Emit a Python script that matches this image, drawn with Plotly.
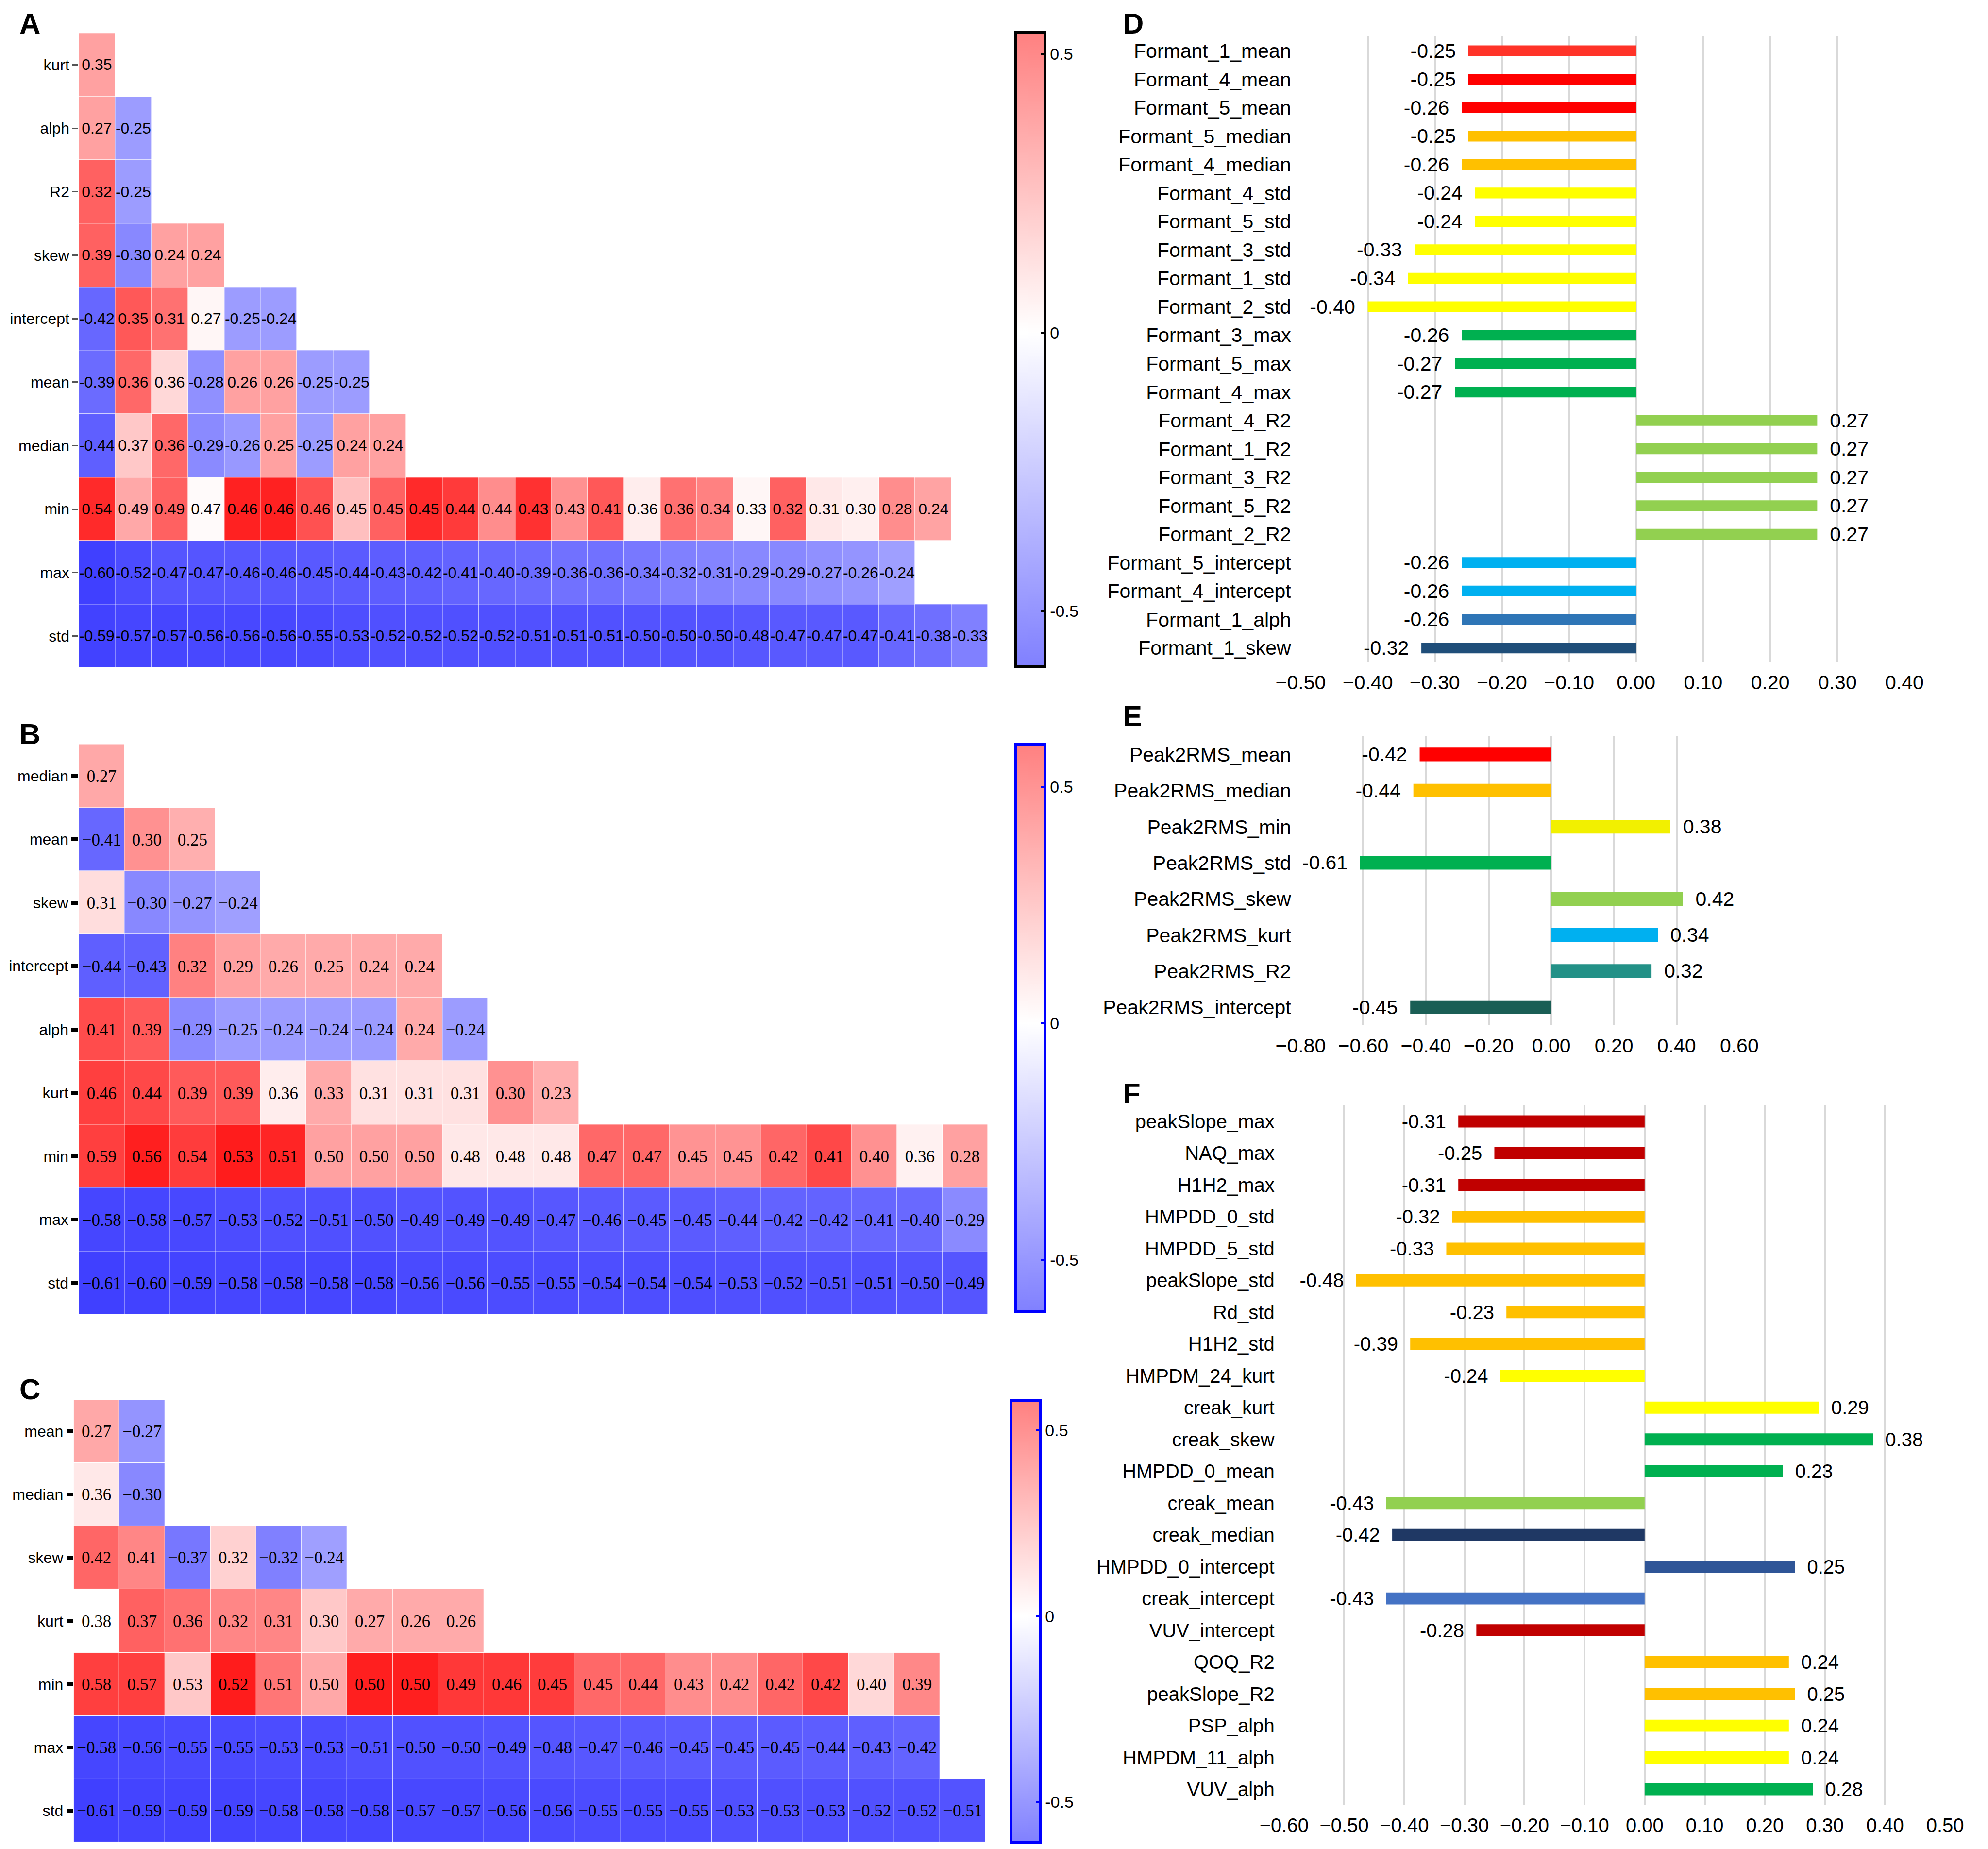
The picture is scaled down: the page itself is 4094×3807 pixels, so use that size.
import plotly.graph_objects as go

W, H = 4094, 3807

a_rows = ["kurt", "alph", "R2", "skew", "intercept", "mean", "median", "min", "max", "std"]
a_vals = [
    [0.35],
    [0.27, -0.25],
    [0.32, -0.25],
    [0.39, -0.30, 0.24, 0.24],
    [-0.42, 0.35, 0.31, 0.27, -0.25, -0.24],
    [-0.39, 0.36, 0.36, -0.28, 0.26, 0.26, -0.25, -0.25],
    [-0.44, 0.37, 0.36, -0.29, -0.26, 0.25, -0.25, 0.24, 0.24],
    [0.54, 0.49, 0.49, 0.47, 0.46, 0.46, 0.46, 0.45, 0.45, 0.45, 0.44, 0.44, 0.43, 0.43, 0.41,
     0.36, 0.36, 0.34, 0.33, 0.32, 0.31, 0.30, 0.28, 0.24],
    [-0.60, -0.52, -0.47, -0.47, -0.46, -0.46, -0.45, -0.44, -0.43, -0.42, -0.41, -0.40, -0.39,
     -0.36, -0.36, -0.34, -0.32, -0.31, -0.29, -0.29, -0.27, -0.26, -0.24],
    [-0.59, -0.57, -0.57, -0.56, -0.56, -0.56, -0.55, -0.53, -0.52, -0.52, -0.52, -0.52, -0.51,
     -0.51, -0.51, -0.50, -0.50, -0.50, -0.48, -0.47, -0.47, -0.47, -0.41, -0.38, -0.33],
]
a_shade = [
    [0.41],
    [0.41, -0.51],
    [0.69, -0.51],
    [0.69, -0.61, 0.41, 0.41],
    [-0.78, 0.73, 0.62, 0.04, -0.51, -0.51],
    [-0.76, 0.66, 0.17, -0.57, 0.41, 0.41, -0.51, -0.51],
    [-0.82, 0.24, 0.66, -0.60, -0.53, 0.41, -0.51, 0.41, 0.41],
    [0.93, 0.38, 0.69, 0.02, 0.97, 0.97, 0.76, 0.28, 0.69, 0.93, 0.86, 0.50, 0.90, 0.48, 0.73,
     0.08, 0.62, 0.55, 0.04, 0.69, 0.10, 0.07, 0.50, 0.40],
    [-0.98, -0.92, -0.87, -0.87, -0.86, -0.86, -0.85, -0.84, -0.83, -0.82, -0.80, -0.78, -0.76,
     -0.73, -0.73, -0.69, -0.65, -0.63, -0.61, -0.61, -0.57, -0.55, -0.49],
    [-0.97, -0.95, -0.95, -0.94, -0.94, -0.94, -0.93, -0.91, -0.90, -0.90, -0.90, -0.90, -0.89,
     -0.89, -0.89, -0.88, -0.88, -0.88, -0.86, -0.85, -0.85, -0.85, -0.78, -0.74, -0.65],
]

b_rows = ["median", "mean", "skew", "intercept", "alph", "kurt", "min", "max", "std"]
b_vals = [
    [0.27],
    [-0.41, 0.30, 0.25],
    [0.31, -0.30, -0.27, -0.24],
    [-0.44, -0.43, 0.32, 0.29, 0.26, 0.25, 0.24, 0.24],
    [0.41, 0.39, -0.29, -0.25, -0.24, -0.24, -0.24, 0.24, -0.24],
    [0.46, 0.44, 0.39, 0.39, 0.36, 0.33, 0.31, 0.31, 0.31, 0.30, 0.23],
    [0.59, 0.56, 0.54, 0.53, 0.51, 0.50, 0.50, 0.50, 0.48, 0.48, 0.48, 0.47, 0.47, 0.45, 0.45,
     0.42, 0.41, 0.40, 0.36, 0.28],
    [-0.58, -0.58, -0.57, -0.53, -0.52, -0.51, -0.50, -0.49, -0.49, -0.49, -0.47, -0.46, -0.45,
     -0.45, -0.44, -0.42, -0.42, -0.41, -0.40, -0.29],
    [-0.61, -0.60, -0.59, -0.58, -0.58, -0.58, -0.58, -0.56, -0.56, -0.55, -0.55, -0.54, -0.54,
     -0.54, -0.53, -0.52, -0.51, -0.51, -0.50, -0.49],
]
b_shade = [
    [0.38],
    [-0.78, 0.48, 0.35],
    [0.15, -0.61, -0.55, -0.49],
    [-0.82, -0.81, 0.55, 0.41, 0.37, 0.37, 0.37, 0.37],
    [0.78, 0.72, -0.60, -0.51, -0.51, -0.51, -0.51, 0.37, -0.51],
    [0.84, 0.80, 0.72, 0.72, 0.08, 0.37, 0.13, 0.13, 0.13, 0.48, 0.35],
    [0.84, 0.98, 0.85, 0.99, 0.95, 0.41, 0.41, 0.41, 0.10, 0.10, 0.10, 0.66, 0.66, 0.47, 0.47,
     0.67, 0.80, 0.48, 0.06, 0.41],
    [-0.95, -0.95, -0.94, -0.92, -0.90, -0.90, -0.89, -0.88, -0.88, -0.88, -0.86, -0.85, -0.84,
     -0.84, -0.82, -0.80, -0.80, -0.78, -0.77, -0.60],
    [-0.98, -0.97, -0.96, -0.95, -0.95, -0.95, -0.95, -0.93, -0.93, -0.92, -0.92, -0.91, -0.91,
     -0.91, -0.90, -0.90, -0.89, -0.89, -0.88, -0.87],
]

c_rows = ["mean", "median", "skew", "kurt", "min", "max", "std"]
c_vals = [
    [0.27, -0.27],
    [0.36, -0.30],
    [0.42, 0.41, -0.37, 0.32, -0.32, -0.24],
    [0.38, 0.37, 0.36, 0.32, 0.31, 0.30, 0.27, 0.26, 0.26],
    [0.58, 0.57, 0.53, 0.52, 0.51, 0.50, 0.50, 0.50, 0.49, 0.46, 0.45, 0.45, 0.44, 0.43, 0.42,
     0.42, 0.42, 0.40, 0.39],
    [-0.58, -0.56, -0.55, -0.55, -0.53, -0.53, -0.51, -0.50, -0.50, -0.49, -0.48, -0.47, -0.46,
     -0.45, -0.45, -0.45, -0.44, -0.43, -0.42],
    [-0.61, -0.59, -0.59, -0.59, -0.58, -0.58, -0.58, -0.57, -0.57, -0.56, -0.56, -0.55, -0.55,
     -0.55, -0.53, -0.53, -0.53, -0.52, -0.52, -0.51],
]
c_shade = [
    [0.38, -0.55],
    [0.10, -0.61],
    [0.67, 0.53, -0.70, 0.20, -0.65, -0.49],
    [0.00, 0.69, 0.62, 0.53, 0.53, 0.24, 0.37, 0.37, 0.37],
    [0.84, 0.84, 0.24, 0.99, 0.60, 0.38, 0.98, 0.98, 0.87, 0.87, 0.85, 0.66, 0.66, 0.50, 0.50,
     0.67, 0.80, 0.17, 0.52],
    [-0.95, -0.94, -0.93, -0.93, -0.92, -0.92, -0.90, -0.89, -0.89, -0.88, -0.87, -0.86, -0.85,
     -0.84, -0.84, -0.84, -0.83, -0.82, -0.80],
    [-0.98, -0.96, -0.96, -0.96, -0.95, -0.95, -0.95, -0.94, -0.94, -0.93, -0.93, -0.92, -0.92,
     -0.92, -0.90, -0.90, -0.90, -0.89, -0.89, -0.88],
]

# ---------------- bar chart data ----------------
d_labels = ["Formant_1_mean", "Formant_4_mean", "Formant_5_mean", "Formant_5_median",
            "Formant_4_median", "Formant_4_std", "Formant_5_std", "Formant_3_std",
            "Formant_1_std", "Formant_2_std", "Formant_3_max", "Formant_5_max", "Formant_4_max",
            "Formant_4_R2", "Formant_1_R2", "Formant_3_R2", "Formant_5_R2", "Formant_2_R2",
            "Formant_5_intercept", "Formant_4_intercept", "Formant_1_alph", "Formant_1_skew"]
d_vals = [-0.25, -0.25, -0.26, -0.25, -0.26, -0.24, -0.24, -0.33, -0.34, -0.40, -0.26, -0.27,
          -0.27, 0.27, 0.27, 0.27, 0.27, 0.27, -0.26, -0.26, -0.26, -0.32]
d_colors = ["#FF3328", "#FF0000", "#FF0000", "#FFC000", "#FFC000", "#FFFF00", "#FFFF00",
            "#FFFF00", "#FFFF00", "#FFFF00", "#00B050", "#00B050", "#00B050", "#92D050",
            "#92D050", "#92D050", "#92D050", "#92D050", "#00B0F0", "#00B0F0", "#2E75B6",
            "#1F4E79"]

e_labels = ["Peak2RMS_mean", "Peak2RMS_median", "Peak2RMS_min", "Peak2RMS_std",
            "Peak2RMS_skew", "Peak2RMS_kurt", "Peak2RMS_R2", "Peak2RMS_intercept"]
e_vals = [-0.42, -0.44, 0.38, -0.61, 0.42, 0.34, 0.32, -0.45]
e_colors = ["#FF0000", "#FFC000", "#F2F000", "#00B050", "#92D050", "#00B0F0", "#239187",
            "#1A5E55"]

f_labels = ["peakSlope_max", "NAQ_max", "H1H2_max", "HMPDD_0_std", "HMPDD_5_std",
            "peakSlope_std", "Rd_std", "H1H2_std", "HMPDM_24_kurt", "creak_kurt", "creak_skew",
            "HMPDD_0_mean", "creak_mean", "creak_median", "HMPDD_0_intercept",
            "creak_intercept", "VUV_intercept", "QOQ_R2", "peakSlope_R2", "PSP_alph",
            "HMPDM_11_alph", "VUV_alph"]
f_vals = [-0.31, -0.25, -0.31, -0.32, -0.33, -0.48, -0.23, -0.39, -0.24, 0.29, 0.38, 0.23,
          -0.43, -0.42, 0.25, -0.43, -0.28, 0.24, 0.25, 0.24, 0.24, 0.28]
f_colors = ["#C00000", "#C00000", "#C00000", "#FFC000", "#FFC000", "#FFC000", "#FFC000",
            "#FFC000", "#FFFF00", "#FFFF00", "#00B050", "#00B050", "#92D050", "#1F3864",
            "#2F5597", "#4472C4", "#C00000", "#FFC000", "#FFC000", "#FFFF00", "#FFFF00",
            "#00B050"]

CELL_SCALE = [[0, "#3c3cff"], [0.5, "#ffffff"], [1, "#ff1a1a"]]
SANS = "Liberation Sans, Arial, sans-serif"
SERIF = "Liberation Serif, Times New Roman, serif"
NBSP = "\u00a0"

fig = go.Figure()


def pad(rows, n):
    return [r + [None] * (n - len(r)) for r in rows]


def add_heatmap(i, rows, vals, shade, font, size, minus, xdom, ydom, cbar):
    n = max(len(r) for r in vals)
    text = []
    for r in vals:
        text.append([f"{v:.2f}".replace("-", minus) for v in r] + [""] * (n - len(r)))
    ax = "" if i == 1 else str(i)
    fig.add_trace(go.Heatmap(
        z=pad(shade, n), x=list(range(n)), y=rows, text=text, texttemplate="%{text}",
        textfont=dict(family=font, size=size, color="black"),
        colorscale=CELL_SCALE, zmin=-1, zmax=1, showscale=False, xgap=1, ygap=1,
        hoverinfo="skip", xaxis="x" + ax, yaxis="y" + ax))
    # colour bar drawn by an invisible marker so it can use the paler legend scale
    lo, hi = cbar["range"]
    mid = -lo / (hi - lo)
    fig.add_trace(go.Scatter(
        x=[0], y=[rows[0]], mode="markers", xaxis="x" + ax, yaxis="y" + ax,
        hoverinfo="skip", showlegend=False,
        marker=dict(size=1, opacity=0, color=[0], cmin=lo, cmax=hi,
                    colorscale=[[0, "#8080ff"], [mid, "#ffffff"], [1, "#ff8080"]],
                    showscale=True,
                    colorbar=dict(x=cbar["x"], xanchor="left", y=cbar["y"], yanchor="middle",
                                  len=cbar["len"], lenmode="fraction", thickness=60,
                                  xpad=0, ypad=0, outlinecolor=cbar["edge"], outlinewidth=6,
                                  ticks="inside", ticklen=12, tickwidth=4,
                                  tickcolor=cbar["edge"], tickvals=[-0.5, 0, 0.5],
                                  ticktext=["-0.5", "0", "0.5"],
                                  tickfont=dict(family=SANS, size=34, color="black")))))
    fig.layout["xaxis" + ax] = dict(domain=xdom, range=[-0.5, n - 0.5], showgrid=False,
                                    zeroline=False, showticklabels=False, ticks="",
                                    automargin=False, anchor="y" + ax, fixedrange=True)
    fig.layout["yaxis" + ax] = dict(domain=ydom, type="category", autorange="reversed",
                                    showgrid=False, zeroline=False, ticks="outside",
                                    ticklen=cbar["ticklen"], tickwidth=cbar["tickwidth"],
                                    tickcolor=cbar["tickcolor"], automargin=False,
                                    tickfont=dict(family=SANS, size=32, color="black"),
                                    anchor="x" + ax)


add_heatmap(1, a_rows, a_vals, a_shade, SANS, 32, "-", [0.0377, 0.495], [0.641, 0.985],
            dict(range=(-0.60, 0.54), x=0.509, y=0.8132, len=0.3434, edge="black",
                 ticklen=12, tickwidth=3, tickcolor="#555555"))
add_heatmap(2, b_rows, b_vals, b_shade, SERIF, 35, "\u2212", [0.0377, 0.495], [0.2911, 0.5996],
            dict(range=(-0.61, 0.59), x=0.509, y=0.4461, len=0.307, edge="#0000ff",
                 ticklen=14, tickwidth=8, tickcolor="black"))
add_heatmap(3, c_rows, c_vals, c_shade, SERIF, 35, "\u2212", [0.0351, 0.4937], [0.0058, 0.2451],
            dict(range=(-0.61, 0.58), x=0.5065, y=0.125, len=0.239, edge="#0000ff",
                 ticklen=14, tickwidth=8, tickcolor="black"))


def add_bars(i, labels, vals, colors, size, rng, dtick, xdom, ydom, gap):
    ax = str(i)
    # a little space between the bar end and its value, as in the source
    text = [f"{v:.2f}{NBSP * 2}" if v < 0 else f"{NBSP * 2}{v:.2f}" for v in vals]
    fig.add_trace(go.Bar(
        x=vals, y=labels, orientation="h", marker=dict(color=colors, line=dict(width=0)),
        text=text, textposition="outside", cliponaxis=False,
        constraintext="none", textfont=dict(family=SANS, size=size, color="black"),
        hoverinfo="skip", showlegend=False, xaxis="x" + ax, yaxis="y" + ax))
    fig.layout["xaxis" + ax] = dict(domain=xdom, range=rng, dtick=dtick, tick0=0,
                                    tickformat=".2f", showgrid=True, gridcolor="#d9d9d9",
                                    gridwidth=4, zeroline=False, showline=False, ticks="",
                                    ticklabelstandoff=14, automargin=False,
                                    tickfont=dict(family=SANS, size=size, color="black"),
                                    anchor="y" + ax)
    fig.layout["yaxis" + ax] = dict(domain=ydom, type="category", autorange="reversed",
                                    showgrid=False, zeroline=False, showline=False, ticks="",
                                    ticklabelstandoff=18, automargin=False,
                                    tickfont=dict(family=SANS, size=size, color="black"),
                                    anchor="x" + ax)
    fig.update_layout(bargap=gap)


add_bars(4, d_labels, d_vals, d_colors, 41, [-0.5005, 0.4005], 0.1,
         [0.6521, 0.9562], [0.644, 0.9823], 0.62)
add_bars(5, e_labels, e_vals, e_colors, 41, [-0.801, 0.601], 0.2,
         [0.6521, 0.8731], [0.4476, 0.6038], 0.62)
add_bars(6, f_labels, f_vals, f_colors, 40, [-0.6005, 0.5005], 0.1,
         [0.6438, 0.9766], [0.0258, 0.4042], 0.62)

letters = [("A", 0.0073, 0.9987), ("B", 0.0073, 0.6144), ("C", 0.0073, 0.2600),
           ("D", 0.5623, 0.9987), ("E", 0.5623, 0.6241), ("F", 0.5623, 0.4200)]
for t, x, y in letters:
    fig.add_annotation(text=f"<b>{t}</b>", x=x, y=y, xref="paper", yref="paper",
                       xanchor="left", yanchor="top", showarrow=False,
                       font=dict(family=SANS, size=60, color="black"))

fig.update_layout(width=W, height=H, margin=dict(l=0, r=0, t=0, b=0, autoexpand=False),
                  paper_bgcolor="white", plot_bgcolor="white", showlegend=False,
                  font=dict(family=SANS, color="black"))

fig.write_html("out.html")
